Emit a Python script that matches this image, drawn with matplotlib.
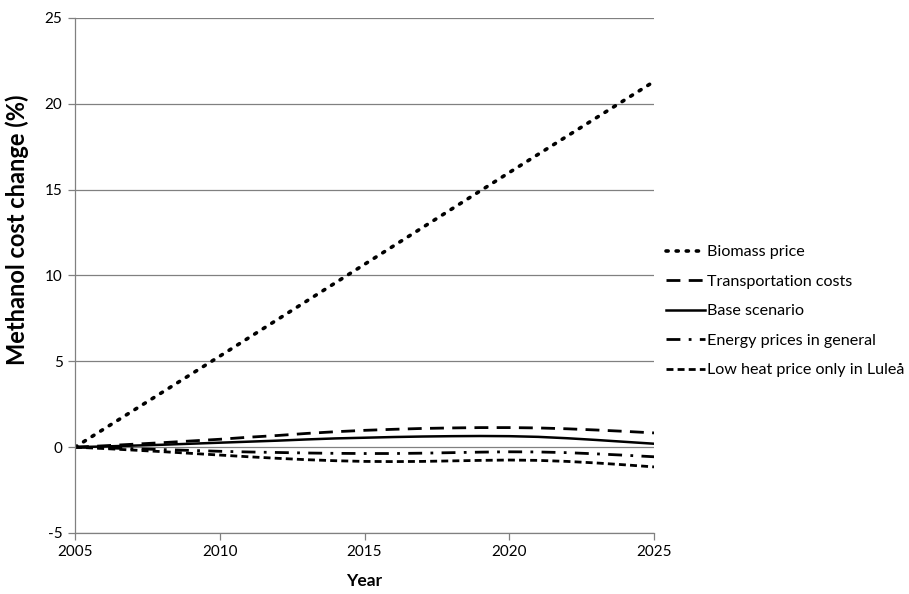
import matplotlib
matplotlib.use("Agg")
import matplotlib.pyplot as plt

plt.rcParams["font.family"] = ["Lato", "DejaVu Sans"]
plt.rcParams["axes.unicode_minus"] = False

years = list(range(2005, 2026))
biomass_years = [2005, 2010, 2015, 2020, 2025]
biomass = [0.0, 5.3, 10.65, 16.0, 21.3]
transport = [0, 0.08, 0.17, 0.26, 0.36, 0.46, 0.58, 0.68, 0.80, 0.90, 0.98,
             1.04, 1.09, 1.12, 1.14, 1.14, 1.12, 1.07, 1.00, 0.92, 0.83]
base = [0, 0.04, 0.09, 0.14, 0.20, 0.26, 0.32, 0.38, 0.45, 0.51, 0.55,
        0.59, 0.62, 0.64, 0.65, 0.64, 0.60, 0.52, 0.42, 0.31, 0.20]
energy = [0, -0.04, -0.09, -0.14, -0.19, -0.24, -0.28, -0.31, -0.34, -0.36, -0.37,
          -0.37, -0.35, -0.32, -0.29, -0.27, -0.28, -0.32, -0.39, -0.47, -0.56]
low_heat = [0, -0.08, -0.17, -0.26, -0.36, -0.46, -0.56, -0.65, -0.73, -0.79, -0.83,
            -0.84, -0.83, -0.80, -0.77, -0.75, -0.77, -0.83, -0.92, -1.03, -1.15]

fig = plt.figure(figsize=(9.09, 5.94), dpi=100)
ax = fig.add_axes([0.0825, 0.1027, 0.637, 0.867])

ax.plot(biomass_years, biomass, color="black", lw=2.6, linestyle=(0, (0.6, 2.2)),
        dash_capstyle="round", label="Biomass price")
ax.plot(years, transport, color="black", lw=2.0, linestyle=(0, (5, 3)),
        label="Transportation costs")
ax.plot(years, base, color="black", lw=1.8, linestyle="-", label="Base scenario")
ax.plot(years, energy, color="black", lw=2.0, linestyle=(0, (5, 3, 1, 3)),
        label="Energy prices in general")
ax.plot(years, low_heat, color="black", lw=2.0, linestyle=(0, (2.5, 1.5)),
        label="Low heat price only in Luleå")

ax.set_xlim(2005, 2025)
ax.set_ylim(-5, 25)
ax.set_xticks([2005, 2010, 2015, 2020, 2025])
ax.set_yticks([-5, 0, 5, 10, 15, 20, 25])
ax.yaxis.grid(True, color="#808080", lw=0.9)
ax.set_axisbelow(True)
for s in ["top", "right"]:
    ax.spines[s].set_visible(False)
for s in ["left", "bottom"]:
    ax.spines[s].set_color("#808080")
    ax.spines[s].set_linewidth(0.9)
ax.tick_params(axis="both", colors="#808080", labelcolor="black", labelsize=11,
               length=5, width=0.9)
ax.tick_params(axis="y", pad=4)

ax.set_xlabel("Year", fontsize=12.5, fontweight="bold", labelpad=10)
ax.set_ylabel("Methanol cost change (%)", fontsize=17, fontweight="bold")
ax.yaxis.set_label_coords(-0.08, 0.588)

ax.legend(loc="upper left", bbox_to_anchor=(1.01, 0.572), frameon=False,
          fontsize=11.6, handlelength=2.4, handletextpad=0.15, labelspacing=0.95,
          borderaxespad=0)

fig.savefig("out.png", dpi=100)
